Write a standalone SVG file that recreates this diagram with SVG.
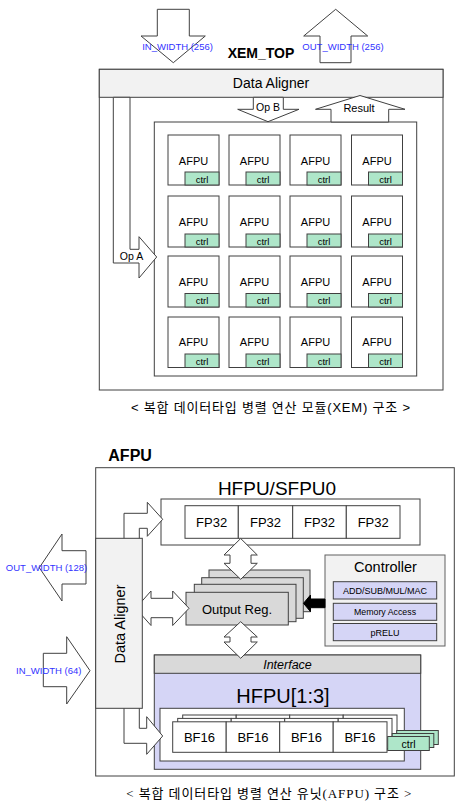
<svg xmlns="http://www.w3.org/2000/svg" width="470" height="812" viewBox="0 0 470 812">
<style>
text{font-family:"Liberation Sans",Arial,"Noto Sans CJK KR",sans-serif;fill:#000}
.bx{fill:#fff;stroke:#404040;stroke-width:1}
.da{fill:#f2f2f2;stroke:#404040;stroke-width:1}
.ar{fill:#fff;stroke:#404040;stroke-width:1;stroke-linejoin:miter}
.ctl{fill:#aee6c9;stroke:#404040;stroke-width:1}
.cell{fill:#fff;stroke:#404040;stroke-width:1}
.gray{fill:#d9d9d9;stroke:#404040;stroke-width:1}
.lav{fill:#d5d5f6;stroke:#404040;stroke-width:1}
.blue{fill:#3333ff;font-size:9.5px;text-anchor:middle}
.c{text-anchor:middle}
.af{font-size:11px;text-anchor:middle}
.ct{font-size:9.5px;text-anchor:middle}
.cap{font-family:"Liberation Serif","Noto Sans CJK KR",serif;font-size:13px}
.capS{font-family:"Liberation Sans","Noto Sans CJK KR",sans-serif;font-size:13px}
</style>

<!-- ===== XEM_TOP ===== -->
<g id="xem-top">
  <rect class="bx" x="99.3" y="69.3" width="343.7" height="320.7"/>
  <text x="261" y="58.3" class="c" style="font-size:14px;font-weight:bold">XEM_TOP</text>
</g>
<g id="xem-data-aligner">
  <rect class="da" x="99.3" y="69.3" width="343.7" height="28"/>
  <text x="271" y="88" class="c" style="font-size:14px">Data Aligner</text>
</g>
<g id="xem-grid">
  <rect class="bx" x="154.3" y="122" width="262.4" height="254"/>
</g>

<g id="afpu-cells">
  <g id="afpu-r1c1"><rect class="cell" x="168" y="135" width="51" height="50"/><rect class="ctl" x="185" y="172" width="34" height="13"/><text class="af" x="193.5" y="165">AFPU</text><text class="ct" x="202" y="182.5">ctrl</text></g>
  <g id="afpu-r1c2"><rect class="cell" x="229" y="135" width="51" height="50"/><rect class="ctl" x="246" y="172" width="34" height="13"/><text class="af" x="254.5" y="165">AFPU</text><text class="ct" x="263" y="182.5">ctrl</text></g>
  <g id="afpu-r1c3"><rect class="cell" x="290" y="135" width="51" height="50"/><rect class="ctl" x="307" y="172" width="34" height="13"/><text class="af" x="315.5" y="165">AFPU</text><text class="ct" x="324" y="182.5">ctrl</text></g>
  <g id="afpu-r1c4"><rect class="cell" x="351.5" y="135" width="51" height="50"/><rect class="ctl" x="368.5" y="172" width="34" height="13"/><text class="af" x="377" y="165">AFPU</text><text class="ct" x="385.5" y="182.5">ctrl</text></g>

  <g id="afpu-r2c1"><rect class="cell" x="168" y="196" width="51" height="51"/><rect class="ctl" x="185" y="234" width="34" height="13"/><text class="af" x="193.5" y="226">AFPU</text><text class="ct" x="202" y="244.5">ctrl</text></g>
  <g id="afpu-r2c2"><rect class="cell" x="229" y="196" width="51" height="51"/><rect class="ctl" x="246" y="234" width="34" height="13"/><text class="af" x="254.5" y="226">AFPU</text><text class="ct" x="263" y="244.5">ctrl</text></g>
  <g id="afpu-r2c3"><rect class="cell" x="290" y="196" width="51" height="51"/><rect class="ctl" x="307" y="234" width="34" height="13"/><text class="af" x="315.5" y="226">AFPU</text><text class="ct" x="324" y="244.5">ctrl</text></g>
  <g id="afpu-r2c4"><rect class="cell" x="351.5" y="196" width="51" height="51"/><rect class="ctl" x="368.5" y="234" width="34" height="13"/><text class="af" x="377" y="226">AFPU</text><text class="ct" x="385.5" y="244.5">ctrl</text></g>

  <g id="afpu-r3c1"><rect class="cell" x="168" y="256" width="51" height="51"/><rect class="ctl" x="185" y="293.5" width="34" height="13.5"/><text class="af" x="193.5" y="286">AFPU</text><text class="ct" x="202" y="304">ctrl</text></g>
  <g id="afpu-r3c2"><rect class="cell" x="229" y="256" width="51" height="51"/><rect class="ctl" x="246" y="293.5" width="34" height="13.5"/><text class="af" x="254.5" y="286">AFPU</text><text class="ct" x="263" y="304">ctrl</text></g>
  <g id="afpu-r3c3"><rect class="cell" x="290" y="256" width="51" height="51"/><rect class="ctl" x="307" y="293.5" width="34" height="13.5"/><text class="af" x="315.5" y="286">AFPU</text><text class="ct" x="324" y="304">ctrl</text></g>
  <g id="afpu-r3c4"><rect class="cell" x="351.5" y="256" width="51" height="51"/><rect class="ctl" x="368.5" y="293.5" width="34" height="13.5"/><text class="af" x="377" y="286">AFPU</text><text class="ct" x="385.5" y="304">ctrl</text></g>

  <g id="afpu-r4c1"><rect class="cell" x="168" y="317" width="51" height="50.5"/><rect class="ctl" x="185" y="354" width="34" height="13.5"/><text class="af" x="193.5" y="346">AFPU</text><text class="ct" x="202" y="364.5">ctrl</text></g>
  <g id="afpu-r4c2"><rect class="cell" x="229" y="317" width="51" height="50.5"/><rect class="ctl" x="246" y="354" width="34" height="13.5"/><text class="af" x="254.5" y="346">AFPU</text><text class="ct" x="263" y="364.5">ctrl</text></g>
  <g id="afpu-r4c3"><rect class="cell" x="290" y="317" width="51" height="50.5"/><rect class="ctl" x="307" y="354" width="34" height="13.5"/><text class="af" x="315.5" y="346">AFPU</text><text class="ct" x="324" y="364.5">ctrl</text></g>
  <g id="afpu-r4c4"><rect class="cell" x="351.5" y="317" width="51" height="50.5"/><rect class="ctl" x="368.5" y="354" width="34" height="13.5"/><text class="af" x="377" y="346">AFPU</text><text class="ct" x="385.5" y="364.5">ctrl</text></g>
</g>

<g id="connectors-xem">
  <polygon class="ar" points="157.3,9.3 189.3,9.3 189.3,36 205.3,36 173.3,62.7 141,36 157.3,36"/>
  <polygon class="ar" points="335.7,9.3 367.7,36 351,36 351,62.7 320,62.7 320,36 303.7,36"/>
  <polygon class="ar" points="253.3,97.3 283.3,97.3 283.3,109.3 299,109.3 268,121.7 237.7,109.3 253.3,109.3"/>
  <polygon class="ar" points="360,95.5 405,109.3 388.7,109.3 388.7,122 331,122 331,109.3 315.5,109.3"/>
  <polygon class="ar" points="113.3,97.3 130,97.3 130,249.3 139,249.3 139,236.7 156.7,257 139,278 139,263 113.3,263"/>
  <text class="blue" x="177.5" y="50">IN_WIDTH (256)</text>
  <text class="blue" x="343" y="50">OUT_WIDTH (256)</text>
  <text x="268" y="111" class="c" style="font-size:10.5px">Op B</text>
  <text x="359" y="112" class="c" style="font-size:11px">Result</text>
  <text x="131.5" y="260" class="c" style="font-size:10.5px">Op A</text>
</g>

<text class="capS" x="270.5" y="411.5" text-anchor="middle" textLength="279" lengthAdjust="spacing">&lt; 복합 데이터타입 병렬 연산 모듈(XEM) 구조 &gt;</text>

<!-- ===== AFPU ===== -->
<g id="afpu">
  <rect class="bx" x="95.7" y="467.7" width="358.6" height="308.3"/>
  <text x="108.3" y="460.7" style="font-size:16px;font-weight:bold">AFPU</text>
</g>

<g id="hfpu-sfpu0">
  <text x="277" y="494.5" class="c" style="font-size:19px">HFPU/SFPU0</text>
  <rect class="bx" x="161" y="499" width="259" height="46"/>
  <rect class="cell" x="185" y="505.7" width="53.3" height="32.6"/>
  <rect class="cell" x="238.3" y="505.7" width="54.4" height="32.6"/>
  <rect class="cell" x="292.7" y="505.7" width="53.6" height="32.6"/>
  <rect class="cell" x="346.3" y="505.7" width="53.7" height="32.6"/>
  <text x="211.6" y="526.7" class="c" style="font-size:13px">FP32</text>
  <text x="265.5" y="526.7" class="c" style="font-size:13px">FP32</text>
  <text x="319.5" y="526.7" class="c" style="font-size:13px">FP32</text>
  <text x="373.2" y="526.7" class="c" style="font-size:13px">FP32</text>
</g>

<g id="hfpu-1-3">
  <rect class="lav" x="154.3" y="655" width="266.4" height="114.3"/>
  <rect class="gray" x="154.3" y="655" width="266.4" height="18.3"/>
  <text x="287.5" y="668.5" class="c" style="font-size:12.5px;font-style:italic">Interface</text>
  <text x="283" y="702.7" class="c" style="font-size:20px">HFPU[1:3]</text>
  <rect class="bx" x="160" y="708.3" width="244.3" height="52.7"/>
  <g id="bf16-layer3">
    <rect class="cell" x="182.7" y="715" width="53.5" height="30.3"/>
    <rect class="cell" x="236.2" y="715" width="53.5" height="30.3"/>
    <rect class="cell" x="289.7" y="715" width="53.5" height="30.3"/>
    <rect class="cell" x="343.2" y="715" width="53.8" height="30.3"/>
  </g>
  <g id="bf16-layer2">
    <rect class="cell" x="177.7" y="718.4" width="53.5" height="30.3"/>
    <rect class="cell" x="231.2" y="718.4" width="53.5" height="30.3"/>
    <rect class="cell" x="284.7" y="718.4" width="53.5" height="30.3"/>
    <rect class="cell" x="338.2" y="718.4" width="53.8" height="30.3"/>
  </g>
  <g id="bf16-front">
    <rect class="cell" x="172.7" y="721.8" width="53.5" height="30.5"/>
    <rect class="cell" x="226.2" y="721.8" width="53.5" height="30.5"/>
    <rect class="cell" x="279.7" y="721.8" width="53.5" height="30.5"/>
    <rect class="cell" x="333.2" y="721.8" width="53.8" height="30.5"/>
    <text x="199.5" y="741.5" class="c" style="font-size:13px">BF16</text>
    <text x="253" y="741.5" class="c" style="font-size:13px">BF16</text>
    <text x="306.5" y="741.5" class="c" style="font-size:13px">BF16</text>
    <text x="360" y="741.5" class="c" style="font-size:13px">BF16</text>
  </g>
  <g id="hfpu-ctrl">
    <rect class="ctl" x="396.7" y="730.5" width="41.6" height="14"/>
    <rect class="ctl" x="392.2" y="733.5" width="41.6" height="14"/>
    <rect class="ctl" x="387.7" y="736.5" width="41.6" height="14"/>
    <text x="408.5" y="747.5" class="c" style="font-size:10.5px">ctrl</text>
  </g>
</g>

<g id="output-reg">
  <rect class="gray" x="209" y="570" width="101" height="41.7"/>
  <rect class="gray" x="201.7" y="577.7" width="101.6" height="40.6"/>
  <rect class="gray" x="194.3" y="584.3" width="101.7" height="37.4"/>
  <rect class="gray" x="186" y="592.3" width="102.3" height="32.7"/>
  <text x="237" y="613.5" class="c" style="font-size:13px">Output Reg.</text>
</g>

<g id="controller">
  <rect class="da" x="325" y="555" width="120" height="91" style="stroke:#606060"/>
  <text x="385.5" y="571.7" class="c" style="font-size:14.5px">Controller</text>
  <rect class="lav" x="333.3" y="581.7" width="103.4" height="17.3"/>
  <text x="385" y="593.8" class="c" style="font-size:9px">ADD/SUB/MUL/MAC</text>
  <rect class="lav" x="333.3" y="603.3" width="103.4" height="17"/>
  <text x="385" y="615.2" class="c" style="font-size:8.8px">Memory Access</text>
  <rect class="lav" x="333.3" y="623.5" width="103.4" height="17.2"/>
  <text x="385" y="635.5" class="c" style="font-size:9px">pRELU</text>
</g>

<g id="connectors-afpu">
  <polygon class="ar" points="124,540 124,513.3 147.3,513.3 147.3,502.3 162.7,519.3 147.3,536.3 147.3,528.3 139.3,528.3 139.3,540"/>
  <polygon class="ar" points="124,707 124,743.3 146.7,743.3 146.7,754.3 162.7,736 146.7,716.7 146.7,728.3 139.3,728.3 139.3,707"/>
  <polygon class="ar" points="39.3,567.7 62,534 62,550.7 86,550.7 86,584 62,584 62,601"/>
  <polygon class="ar" points="43.3,653.3 66.7,653.3 66.7,636.7 90,670.7 66.7,704 66.7,686.7 43.3,686.7"/>
  <polygon class="ar" points="240.7,538.5 257.3,555 251,555 251,563.3 257.3,563.3 240.7,579.3 224,563.3 230,563.3 230,555 224,555"/>
  <polygon class="ar" points="240.7,621.7 257.3,637 251,637 251,642 257.3,642 240.7,658.3 224,642 230,642 230,637 224,637"/>
  <polygon class="ar" points="135.7,608.3 151,591 151,598.3 172.7,598.3 172.7,591 189,608.3 172.7,625.5 172.7,617.7 151,617.7 151,625.5"/>
  <polygon points="303.5,603.3 310.5,595 310.5,599 325,599 325,607.7 310.5,607.7 310.5,611.7" fill="#000" stroke="#000" stroke-width="1"/>
  <text class="blue" x="46.5" y="571">OUT_WIDTH (128)</text>
  <text class="blue" x="48.8" y="674">IN_WIDTH (64)</text>
</g>

<g id="afpu-data-aligner">
  <rect class="da" x="95.7" y="538.3" width="46.6" height="170"/>
  <text transform="translate(125 624) rotate(-90)" x="0" y="0" class="c" style="font-size:14.5px">Data Aligner</text>
</g>

<text class="cap" x="268.8" y="797.5" text-anchor="middle" textLength="285" lengthAdjust="spacing">&lt; 복합 데이터타입 병렬 연산 유닛(AFPU) 구조 &gt;</text>
</svg>
